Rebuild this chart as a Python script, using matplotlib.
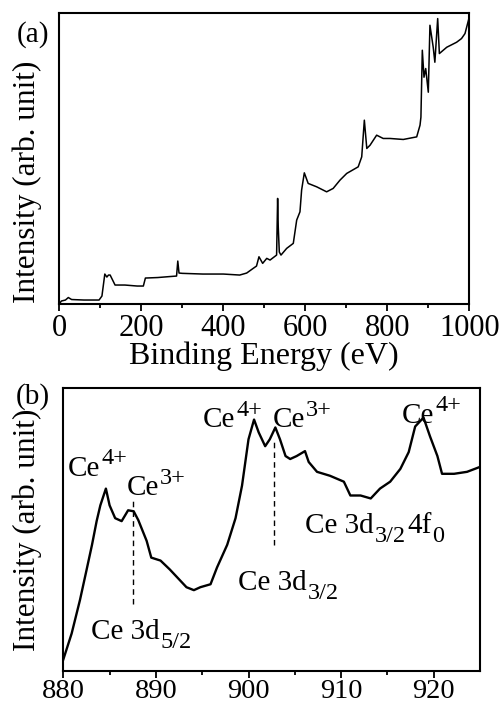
import numpy as np
import matplotlib
matplotlib.use("Agg")
import matplotlib.pyplot as plt

plt.rcParams['font.family'] = ['Liberation Serif', 'DejaVu Serif']

# (a) survey spectrum, binding energy in eV and intensity (arb. unit)
survey_be = [0, 5, 15, 22, 30, 60, 97, 104, 111, 116, 120, 124, 130, 136, 160, 190, 205, 210,
             240, 270, 286, 289, 292, 300, 350, 400, 440, 457, 473, 481, 487, 496, 506, 514,
             530, 532.5, 534, 536.6, 540.7, 554.6, 570.7, 579, 587, 591, 597.6, 607, 627.8,
             652, 668, 684.6, 701, 729, 737.6, 744, 750, 758, 774, 790, 806.6, 839, 871.7,
             879.8, 882, 885.4, 889.5, 893.7, 900, 904, 912, 916, 922.9, 927, 945, 969, 981,
             989.5, 999]
survey_int = [0, 3, 4, 6.5, 4.5, 4, 4, 8, 30, 27, 29, 29, 24, 19, 19, 18, 18, 26,
              26.5, 27.5, 28, 43, 31, 30.7, 30, 30, 29, 31, 35.7, 38, 47.3, 40.7, 45.7, 44,
              49, 105.7, 77.3, 52, 49, 55.7, 60.7, 84, 92.3, 114, 131.3, 120.7, 117.3,
              112.3, 115.7, 124, 130.7, 137.3, 147.3, 184, 155.7, 159, 169, 165.7, 165.7, 164.7, 167.3,
              179, 187, 254, 227, 235.7, 212, 279, 257, 242, 285.7, 250.7, 257, 262, 265.7,
              270.7, 285.7]

# (b) Ce 3d core level
ce_be = [880, 880.9, 881.8, 882.5, 883.1, 883.6, 884.0, 884.6, 885.0, 885.6, 886.3, 887.0,
         887.6, 888.1, 889.0, 889.5, 890.5, 891.5, 892.6, 893.3, 894.1, 894.8, 895.9, 896.6,
         897.7, 898.6, 899.3, 900.0, 900.6, 901.1, 901.8, 902.3, 902.9, 903.4, 904.0, 904.5,
         905.2, 906.1, 906.5, 907.4, 908.8, 910.3, 911.0, 912.1, 913.2, 914.2, 915.3, 916.4,
         917.3, 918.0, 918.9, 919.6, 920.4, 920.9, 922.2, 923.6, 925]
ce_int = [11.7, 38, 72, 102, 128, 152, 168, 185, 168, 155, 152, 163,
          162, 153, 132, 115, 112, 103, 92, 85, 82, 85, 88, 105,
          128, 155, 188, 235, 255, 242, 228, 235, 247, 235, 218, 215,
          218, 223, 212, 202, 198, 192, 178, 178, 175, 185, 192, 205,
          222, 248, 257, 238, 218, 200, 200, 202, 207]

# labels: pieces of text, 'n' normal, 'sup' superscript, 'sub' subscript
peak_labels = [[('Ce', 'n'), ('4+', 'sup')], [('Ce', 'n'), ('3+', 'sup')],
               [('Ce', 'n'), ('4+', 'sup')], [('Ce', 'n'), ('3+', 'sup')],
               [('Ce', 'n'), ('4+', 'sup')]]
peak_pos = [(880.5, 198), (886.8, 178), (895.1, 247), (902.6, 247), (916.6, 252)]
level_labels = [[('Ce 3d', 'n'), ('5/2', 'sub')],
                [('Ce 3d', 'n'), ('3/2', 'sub')],
                [('Ce 3d', 'n'), ('3/2', 'sub'), ('4f', 'n'), ('0', 'sub')]]
level_pos = [(883.0, 32), (898.9, 82), (906.1, 140)]
marker_be = [887.5, 902.8]
marker_span = [(68, 175), (128, 235)]


def put_label(ax, x, y, parts):
    prev = None
    for txt, kind in parts:
        size = 21 if kind == 'n' else 17.5
        dy = {'n': 0, 'sup': 8.5, 'sub': -6.5}[kind]
        if prev is None:
            prev = ax.text(x, y, txt, fontsize=size, va='baseline', ha='left')
        else:
            prev = ax.annotate(txt, xy=(1.0, y), xycoords=(prev, 'data'),
                               xytext=(0.8, dy), textcoords='offset points',
                               fontsize=size, va='baseline', ha='left')


fig = plt.figure(figsize=(5, 7.1), dpi=100)
ax1 = fig.add_axes([0.1186, 0.5718, 0.82, 0.4095])
ax2 = fig.add_axes([0.1266, 0.0549, 0.8334, 0.3986])

ax1.plot(survey_be, survey_int, color='black', lw=1.1)
ax1.set_xlim(0, 1000)
ax1.set_ylim(0, 291)
ax1.set_xticks(np.arange(0, 1001, 200))
ax1.set_xticks(np.arange(100, 1000, 200), minor=True)
ax1.set_xlabel('Binding Energy (eV)', fontsize=23, labelpad=-1)

ax2.plot(ce_be, ce_int, color='black', lw=1.7)
ax2.set_xlim(880, 925)
ax2.set_ylim(0, 287)
ax2.set_xticks(np.arange(880, 921, 10))
ax2.set_xticks(np.arange(885, 925, 10), minor=True)

for parts, (x, y) in zip(peak_labels, peak_pos):
    put_label(ax2, x, y, parts)
for parts, (x, y) in zip(level_labels, level_pos):
    put_label(ax2, x, y, parts)
for xb, (y0, y1) in zip(marker_be, marker_span):
    ax2.plot([xb, xb], [y0, y1], color='black', lw=1, ls=(0, (4, 3)))

for ax in (ax1, ax2):
    ax.set_yticks([])
    for s in ax.spines.values():
        s.set_linewidth(1.5)
    ax.tick_params(axis='x', which='minor', direction='out', length=3, width=1.3)
ax1.tick_params(axis='x', which='major', direction='out', length=5, width=1.3,
                labelsize=22, pad=2)
ax2.tick_params(axis='x', which='major', direction='out', length=5, width=1.3,
                labelsize=20.5, pad=1)

fig.text(0.054, 1 - 182 / 710, 'Intensity (arb. unit)', rotation=90, fontsize=22.5,
         ha='center', va='center')
fig.text(0.054, 1 - 529.5 / 710, 'Intensity (arb. unit)', rotation=90, fontsize=22.5,
         ha='center', va='center')
fig.text(0.066, 1 - 35 / 710, '(a)', fontsize=21, ha='center', va='center')
fig.text(0.066, 1 - 397 / 710, '(b)', fontsize=21, ha='center', va='center')

fig.savefig('out.png', dpi=100)
